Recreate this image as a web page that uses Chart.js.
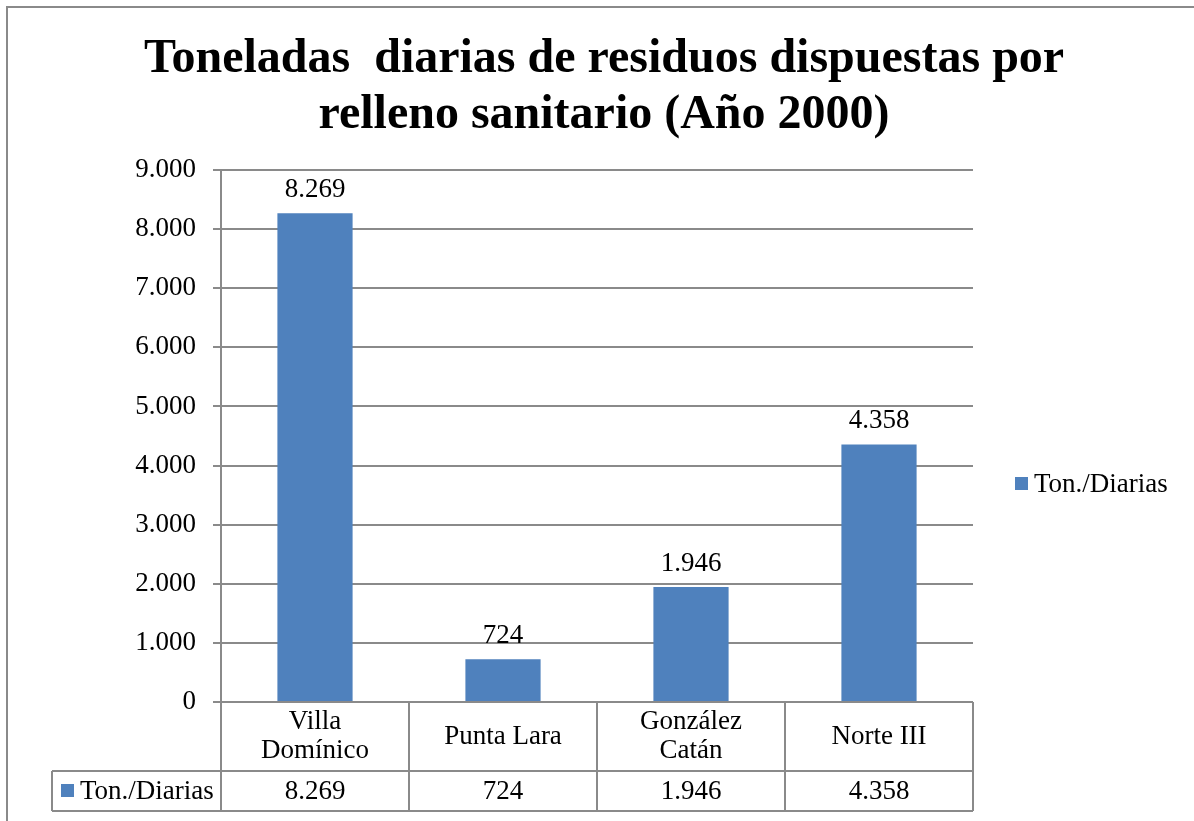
<!DOCTYPE html>
<html lang="es">
<head>
<meta charset="utf-8">
<title>Toneladas diarias de residuos dispuestas por relleno sanitario (Año 2000)</title>
<script src="https://cdn.jsdelivr.net/npm/chart.js@4.4.1/dist/chart.umd.min.js"></script>
<style>
  html, body { margin: 0; padding: 0; background: #ffffff; }
  #wrap { width: 1194px; height: 821px; position: relative; }
</style>
</head>
<body>
<div id="wrap"><canvas id="myChart" width="1194" height="821"></canvas></div>
<script>
'use strict';

// <------------------ DATA ------------------>

let titleLines = ['Toneladas  diarias de residuos dispuestas por', 'relleno sanitario (Año 2000)'];
let categories = [['Villa', 'Domínico'], ['Punta Lara'], ['González', 'Catán'], ['Norte III']];
let seriesName = 'Ton./Diarias';
let tonValues = [8269, 724, 1946, 4358];
let yTicks = [0, 1000, 2000, 3000, 4000, 5000, 6000, 7000, 8000, 9000];

// <------------------ STYLE ------------------>

let barColor = '#4F81BD';
let lineColor = '#8a8a8a';
let serif = '"Liberation Serif", "Times New Roman", serif';
let textSize = 27;

// <------------------ HELPERS ------------------>

function formatNum(n) {
  return n.toString().replace(/\B(?=(\d{3})+(?!\d))/g, '.');
}

let ctx = document.getElementById('myChart').getContext('2d');

// draws frame, title, value labels, data table and legend
let extrasPlugin = {
  id: 'extras',
  beforeDraw(chart) {
    let c = chart.ctx;
    c.save();
    c.fillStyle = '#ffffff';
    c.fillRect(0, 0, chart.width, chart.height);
    c.strokeStyle = lineColor;
    c.lineWidth = 2;
    c.strokeRect(7, 7, chart.width + 20, chart.height + 20);
    c.restore();
  },
  afterDatasetsDraw(chart) {
    let c = chart.ctx;
    let meta = chart.getDatasetMeta(0);
    c.save();
    c.fillStyle = '#000000';
    c.font = textSize + 'px ' + serif;
    c.textAlign = 'center';
    c.textBaseline = 'alphabetic';
    meta.data.forEach(function (bar, i) {
      c.fillText(formatNum(tonValues[i]), bar.x, bar.y - 16);
    });
    c.restore();
  },
  afterDraw(chart) {
    let c = chart.ctx;
    let area = chart.chartArea;
    let xScale = chart.scales.x;
    let catW = (area.right - area.left) / categories.length;
    let rowTop = area.bottom;
    let rowMid = area.bottom + 69;
    let rowBot = area.bottom + 109;
    let tableLeft = 52;

    c.save();

    // title
    c.fillStyle = '#000000';
    c.font = 'bold 48px ' + serif;
    c.textAlign = 'center';
    c.textBaseline = 'middle';
    titleLines.forEach(function (line, i) {
      c.fillText(line, 604, 60 + i * 56);
    });

    // table lines
    c.strokeStyle = lineColor;
    c.lineWidth = 2;
    c.beginPath();
    c.moveTo(tableLeft, rowMid);
    c.lineTo(area.right, rowMid);
    c.moveTo(tableLeft, rowBot);
    c.lineTo(area.right, rowBot);
    c.moveTo(tableLeft, rowMid);
    c.lineTo(tableLeft, rowBot);
    for (let i = 0; i <= categories.length; i++) {
      let x = area.left + i * catW;
      c.moveTo(x, rowTop);
      c.lineTo(x, rowBot);
    }
    c.stroke();

    // category names and values
    c.fillStyle = '#000000';
    c.font = textSize + 'px ' + serif;
    c.textAlign = 'center';
    c.textBaseline = 'middle';
    for (let i = 0; i < categories.length; i++) {
      let cx = xScale.getPixelForValue(i);
      let lines = categories[i];
      let startY = (rowTop + rowMid) / 2 - (lines.length - 1) * 14.5;
      lines.forEach(function (txt, j) {
        c.fillText(txt, cx, startY + j * 29);
      });
      c.fillText(formatNum(tonValues[i]), cx, (rowMid + rowBot) / 2 + 1);
    }

    // legend key inside table
    c.fillStyle = barColor;
    c.fillRect(61, (rowMid + rowBot) / 2 - 7, 13, 13);
    c.fillStyle = '#000000';
    c.textAlign = 'left';
    c.fillText(seriesName, 80, (rowMid + rowBot) / 2 + 1);

    // legend on the right
    c.fillStyle = barColor;
    c.fillRect(1015, 477, 13, 13);
    c.fillStyle = '#000000';
    c.fillText(seriesName, 1034, 485);

    c.restore();
  }
};

// <------------------ CHART ------------------>

let myChartObj = {
  type: 'bar',
  data: {
    labels: categories.map(function (l) { return l.join(' '); }),
    datasets: [{
      label: seriesName,
      data: tonValues,
      backgroundColor: barColor,
      borderWidth: 0,
      categoryPercentage: 1,
      barPercentage: 0.4
    }]
  },
  options: {
    responsive: false,
    animation: false,
    layout: {
      padding: { top: 170, right: 221, bottom: 119, left: 0 }
    },
    plugins: {
      legend: { display: false },
      title: { display: false },
      tooltip: { enabled: false }
    },
    scales: {
      x: {
        display: false
      },
      y: {
        min: 0,
        max: 9000,
        afterFit: function (scale) { scale.width = 221; },
        afterBuildTicks: function (scale) {
          scale.ticks = yTicks.map(function (v) { return { value: v }; });
        },
        ticks: {
          color: '#000000',
          padding: 17,
          font: { family: serif, size: textSize },
          callback: function (v) { return formatNum(v); }
        },
        grid: {
          color: lineColor,
          lineWidth: 2,
          tickLength: 8,
          tickColor: lineColor
        },
        border: { color: lineColor, width: 2 }
      }
    }
  },
  plugins: [extrasPlugin]
};

const myChart = new Chart(ctx, myChartObj);
</script>
</body>
</html>
